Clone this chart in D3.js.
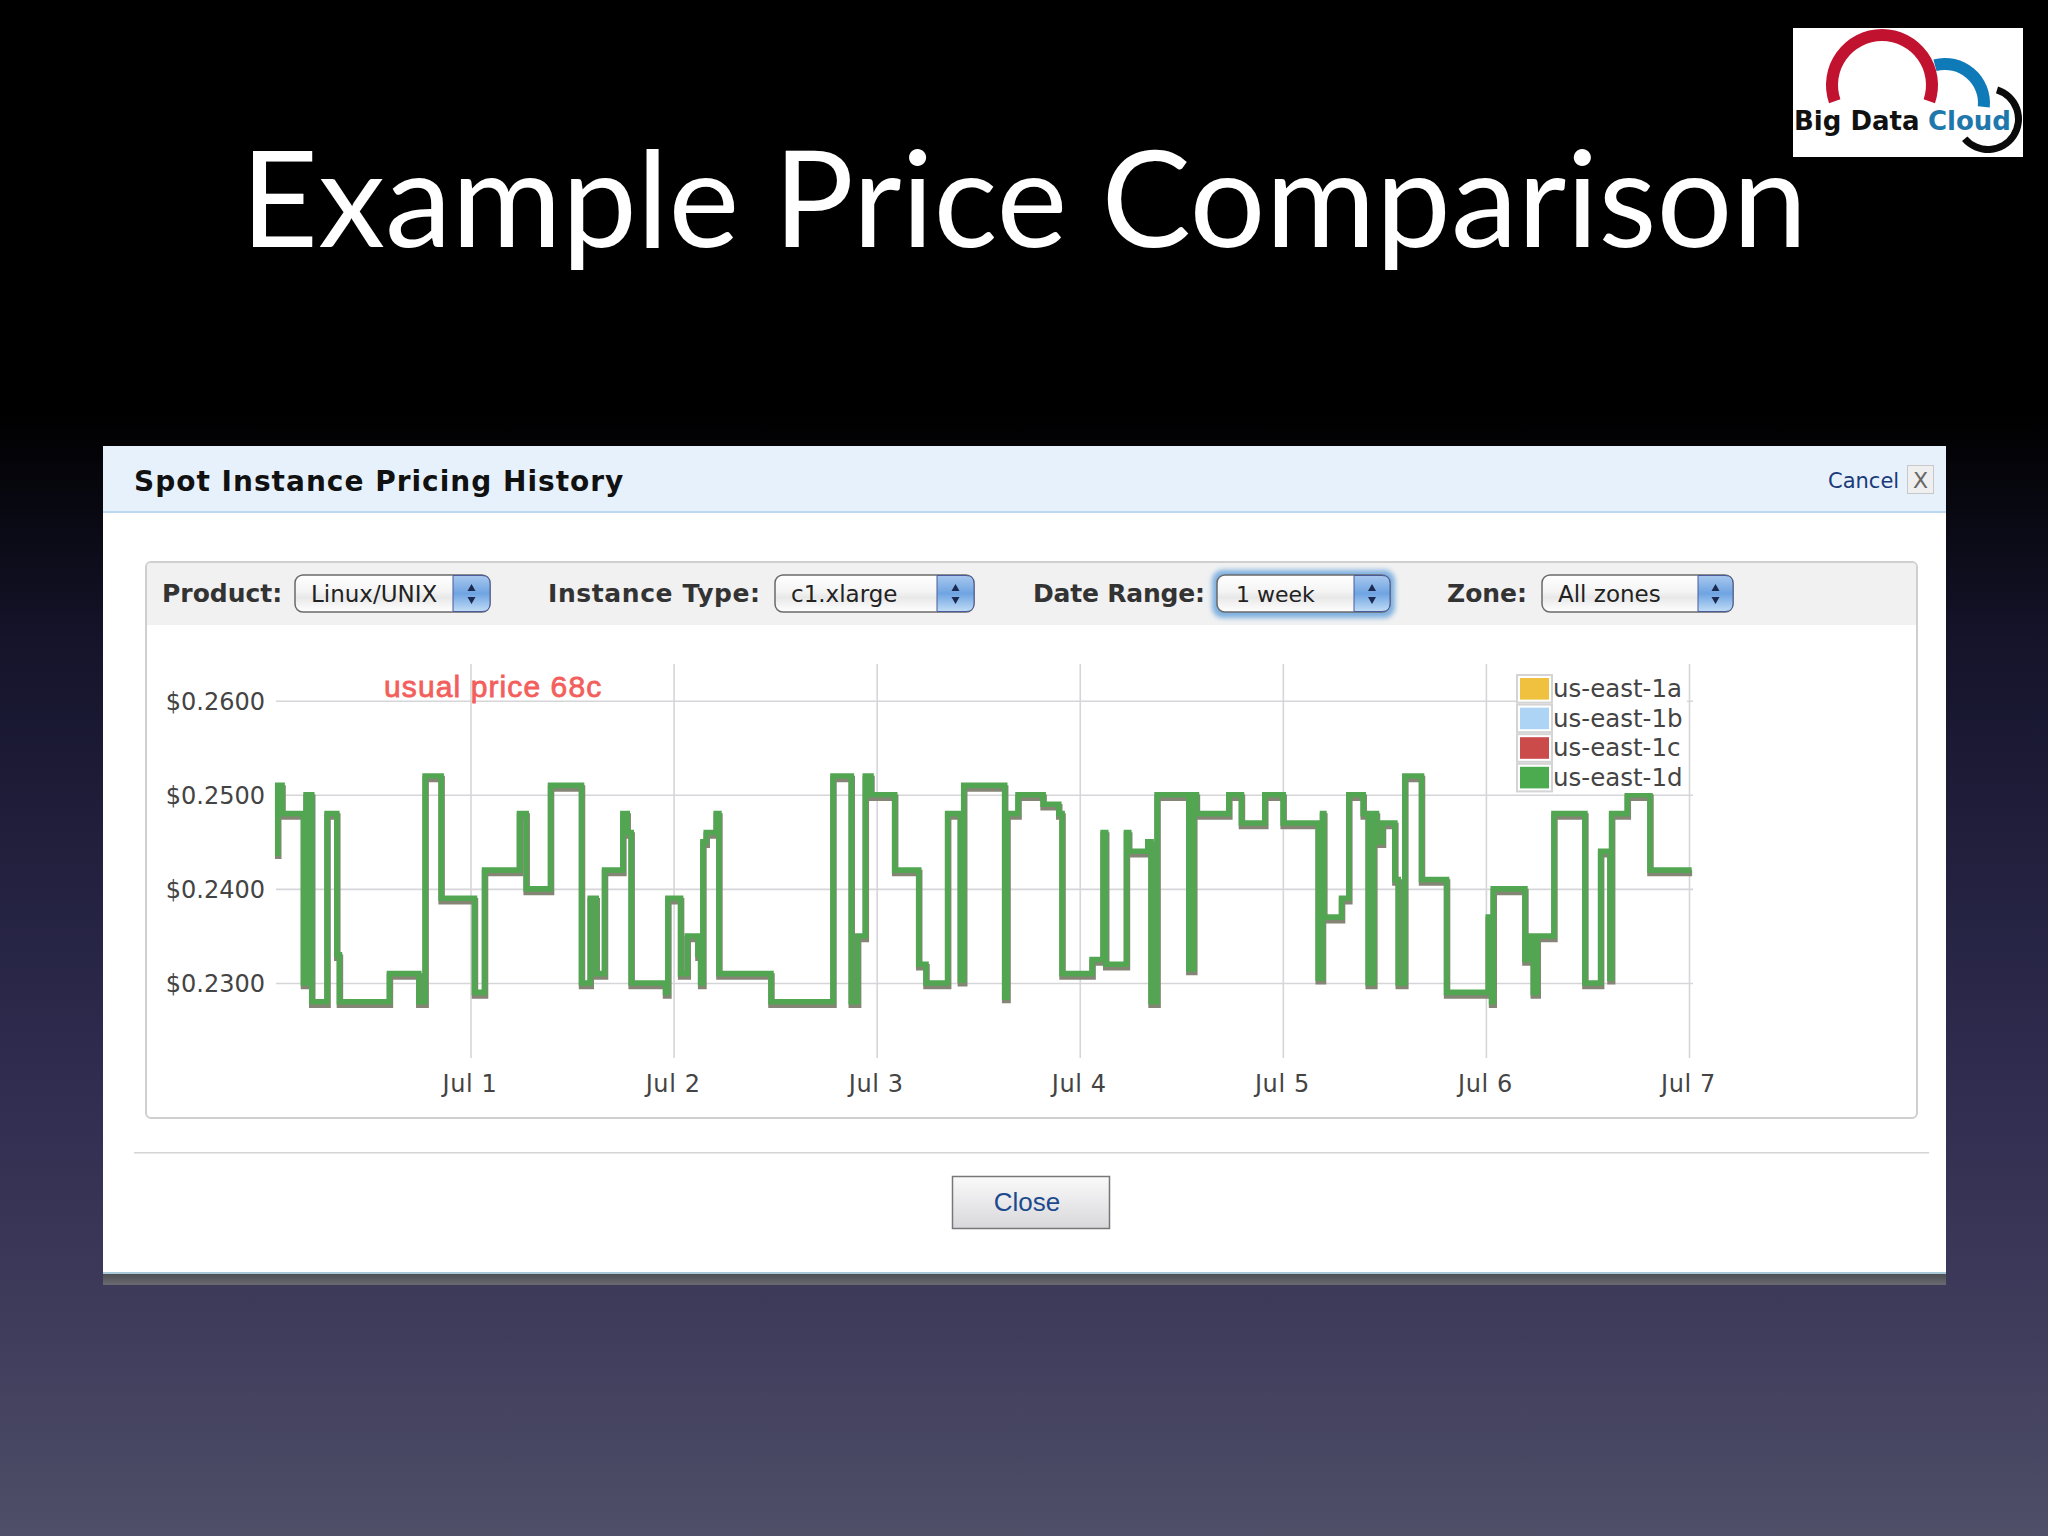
<!DOCTYPE html>
<html>
<head>
  <meta charset="utf-8">
  <script src="https://d3js.org/d3.v7.min.js"></script>
  <style>
    body { margin: 0; background: #000; overflow: hidden; }
    svg { display: block; }
    text { font-family: "DejaVu Sans", sans-serif; }
  </style>
  <title>Example Price Comparison</title>
</head>
<body>
<script>
  // hours since Jul 1 00:00 at which the price changes
  const hours = [-22.78, -22.78, -22.27, -19.74, -19.43, -19.23, -19.03, -18.76, -16.95, -15.80, -15.49, -9.58,
    -6.11, -5.36, -3.47, 0.47, 1.66, 5.79, 6.58, 9.46, 13.12, 14.15, 14.86, 15.84, 18.01, 18.52, 18.99, 23.05,
    23.33, 24.83, 25.62, 26.88, 27.2, 27.47, 27.86, 29.04, 29.36, 35.51, 42.84, 45.0, 45.75, 46.66, 47.33, 50.13,
    52.97, 53.83, 56.39, 57.89, 58.29, 63.13, 63.41, 64.71, 67.67, 69.52, 69.91, 73.46, 74.76, 75.07, 77.52, 77.79,
    80.04, 80.43, 81.14, 84.89, 85.48, 85.79, 89.62, 91.11, 93.87, 96.04, 100.18, 100.69, 100.85, 102.94, 103.80,
    105.50, 106.09, 106.76, 107.07, 107.78, 109.24, 109.64, 110.42, 112.39, 115.35, 120.28, 120.67, 120.87, 124.61,
    125.20, 125.60, 126.07, 128.04, 131.70, 133.56, 134.66, 134.86, 136.71, 139.39, 144.31];
  // price from that hour on
  const prices = [0.2435, 0.251, 0.248, 0.23, 0.25, 0.23, 0.25, 0.228, 0.248, 0.233, 0.228, 0.231,
    0.228, 0.252, 0.239, 0.229, 0.242, 0.248, 0.24, 0.251, 0.23, 0.239, 0.231, 0.242, 0.248, 0.246, 0.23, 0.229,
    0.239, 0.231, 0.235, 0.233, 0.23, 0.245, 0.246, 0.248, 0.231, 0.228, 0.252, 0.228, 0.235, 0.252, 0.25, 0.242,
    0.232, 0.23, 0.248, 0.2303, 0.251, 0.2285, 0.248, 0.25, 0.249, 0.248, 0.231, 0.2325, 0.246, 0.232, 0.246, 0.244,
    0.245, 0.228, 0.25, 0.2315, 0.25, 0.248, 0.25, 0.247, 0.25, 0.247, 0.2305, 0.248, 0.237, 0.239, 0.25,
    0.248, 0.23, 0.248, 0.245, 0.247, 0.241, 0.23, 0.252, 0.241, 0.229, 0.237, 0.228, 0.24, 0.2325,
    0.235, 0.229, 0.235, 0.248, 0.23, 0.244, 0.2305, 0.248, 0.25, 0.242, 0.242];

  const yTicks = [0.23, 0.24, 0.25, 0.26];
  const dayLabels = ["Jul 1", "Jul 2", "Jul 3", "Jul 4", "Jul 5", "Jul 6", "Jul 7"];
  const zones = ["us-east-1a", "us-east-1b", "us-east-1c", "us-east-1d"];
  const zoneColors = ["#efc13f", "#aed4f5", "#cb4a4a", "#4dab4f"];
  const filters = [
    { label: "Product:", lx: 162, ls: 0, value: "Linux/UNIX", x0: 295, x1: 490, btn: 453 },
    { label: "Instance Type:", lx: 548, ls: 0.6, value: "c1.xlarge", x0: 775, x1: 974, btn: 937 },
    { label: "Date Range:", lx: 1033, ls: -0.2, value: "1 week", x0: 1217, x1: 1390, btn: 1354, focus: true },
    { label: "Zone:", lx: 1447, ls: 0, value: "All zones", x0: 1542, x1: 1733, btn: 1698 }
  ];

  const svg = d3.select("body").append("svg").attr("width", 2048).attr("height", 1536);
  const defs = svg.append("defs");

  function gradient(id, stops, x2, y2) {
    const g = defs.append("linearGradient").attr("id", id)
      .attr("x1", 0).attr("y1", 0).attr("x2", x2 || 0).attr("y2", y2 === undefined ? 1 : y2);
    stops.forEach(s => g.append("stop").attr("offset", s[0]).attr("stop-color", s[1]));
  }
  gradient("bg", [[0, "#000"], [0.27, "#000"], [0.42, "#15142b"], [0.7, "#2f2c50"], [0.85, "#3d3a5a"], [1, "#4f4f68"]]);
  gradient("sel", [[0, "#fff"], [0.45, "#f4f4f4"], [0.6, "#e8e8e8"], [1, "#fff"]]);
  gradient("selBtn", [[0, "#a8c8ee"], [0.5, "#6fa4e2"], [1, "#c0dcf6"]]);
  gradient("closeBtn", [[0, "#fafafa"], [1, "#d8d8dc"]]);
  gradient("dropShadow", [[0, "#4a4c50"], [1, "#6a6a70"]]);
  defs.append("filter").attr("id", "glow").attr("x", "-10%").attr("y", "-40%").attr("width", "120%").attr("height", "180%")
    .append("feGaussianBlur").attr("stdDeviation", 2.5);

  svg.append("rect").attr("width", 2048).attr("height", 1536).attr("fill", "url(#bg)");

  // slide title
  svg.append("text").attr("x", 1024).attr("y", 247).attr("text-anchor", "middle")
    .attr("fill", "#fff").attr("font-size", 134).style("font-family", "Lato")
    .text("Example Price Comparison");

  // logo
  const logo = svg.append("g");
  logo.append("rect").attr("x", 1793).attr("y", 28).attr("width", 230).attr("height", 129).attr("fill", "#fff");
  const arc = d3.arc();
  logo.append("path").attr("transform", "translate(1945,103)").attr("fill", "#0f7ab8")
    .attr("d", arc({ innerRadius: 33, outerRadius: 45, startAngle: -0.26, endAngle: Math.PI / 2 + 0.1 }));
  logo.append("path").attr("transform", "translate(1882,85)").attr("fill", "#c1122f")
    .attr("d", arc({ innerRadius: 44, outerRadius: 56, startAngle: -Math.PI / 2 - 0.33, endAngle: Math.PI / 2 + 0.33 }));
  logo.append("path").attr("transform", "translate(1988,119)").attr("fill", "#0a0a0a")
    .attr("d", arc({ innerRadius: 27, outerRadius: 34, startAngle: 0.3, endAngle: Math.PI + 0.87 }));
  logo.append("text").attr("x", 1794).attr("y", 130).attr("font-size", 26).attr("font-weight", "bold")
    .attr("fill", "#111").text("Big Data");
  logo.append("text").attr("x", 1928).attr("y", 130).attr("font-size", 26).attr("font-weight", "bold")
    .attr("fill", "#1f78ac").text("Cloud");

  // dialog
  svg.append("rect").attr("x", 103).attr("y", 1273).attr("width", 1843).attr("height", 12).attr("fill", "url(#dropShadow)");
  svg.append("rect").attr("x", 103).attr("y", 446).attr("width", 1843).attr("height", 828).attr("fill", "#fff");
  svg.append("rect").attr("x", 103).attr("y", 1272).attr("width", 1843).attr("height", 2).attr("fill", "#a8c8d8");
  svg.append("rect").attr("x", 103).attr("y", 446).attr("width", 1843).attr("height", 66).attr("fill", "#e7f1fb");
  svg.append("rect").attr("x", 103).attr("y", 511).attr("width", 1843).attr("height", 2).attr("fill", "#bcd8f0");
  svg.append("text").attr("x", 134).attr("y", 491).attr("font-size", 28).attr("font-weight", "bold")
    .attr("letter-spacing", 1).attr("fill", "#111").text("Spot Instance Pricing History");
  svg.append("text").attr("x", 1828).attr("y", 488).attr("font-size", 21).attr("fill", "#1a3a7a").text("Cancel");
  svg.append("rect").attr("x", 1907.5).attr("y", 465.5).attr("width", 26).attr("height", 28)
    .attr("fill", "#efefef").attr("stroke", "#c8c8c8");
  svg.append("text").attr("x", 1920.5).attr("y", 488).attr("text-anchor", "middle").attr("font-size", 22)
    .attr("fill", "#666").text("X");

  // filter panel
  svg.append("rect").attr("x", 146).attr("y", 562).attr("width", 1771).attr("height", 556).attr("rx", 5)
    .attr("fill", "#fff").attr("stroke", "#cfcfcf").attr("stroke-width", 2);
  svg.append("path").attr("d", "M147 625V567q0-4 4-4H1912q4 0 4 4V625Z").attr("fill", "#f1f1f1");

  filters.forEach(function (f) {
    const g = svg.append("g");
    g.append("text").attr("x", f.lx).attr("y", 602).attr("font-size", 25).attr("font-weight", "bold")
      .attr("letter-spacing", f.ls).attr("fill", "#333").text(f.label);
    if (f.focus) {
      g.append("rect").attr("x", f.x0 - 5).attr("y", 570).attr("width", f.x1 - f.x0 + 10).attr("height", 48).attr("rx", 11)
        .attr("fill", "#7fb0e0").attr("filter", "url(#glow)");
    }
    g.append("rect").attr("x", f.x0).attr("y", 575).attr("width", f.x1 - f.x0).attr("height", 37).attr("rx", 8)
      .attr("fill", "url(#sel)").attr("stroke", "#6a6a6a").attr("stroke-width", 1.5);
    g.append("path").attr("d", `M${f.btn} 575.5H${f.x1 - 8}q8 0 8 8v20q0 8-8 8H${f.btn}Z`)
      .attr("fill", "url(#selBtn)").attr("stroke", "#4a5a9a").attr("stroke-width", 1);
    const cx = (f.btn + f.x1) / 2;
    g.append("path").attr("d", `M${cx - 4} 591l4-7 4 7ZM${cx - 4} 597l4 7 4-7Z`).attr("fill", "#1c2a50");
    g.append("text").attr("x", f.x0 + (f.focus ? 19 : 16)).attr("y", 602).attr("font-size", f.focus ? 22 : 23)
      .attr("fill", "#222").text(f.value);
  });

  // chart
  const day0 = Date.UTC(2011, 6, 1);
  const toDate = h => new Date(day0 + h * 3600000);
  const x = d3.scaleUtc().domain([toDate(0), toDate(144)]).range([470.5, 1689]);
  const y = d3.scaleLinear().domain([0.23, 0.26]).range([983, 700.7]);
  const plotLeft = 276, plotRight = 1693, plotTop = 664, plotBottom = 1058;
  const dayTicks = dayLabels.map((d, i) => toDate(i * 24));

  const xAxis = d3.axisBottom(x).tickValues(dayTicks).tickSize(plotBottom - plotTop).tickPadding(17)
    .tickFormat((d, i) => dayLabels[i]);
  const yAxis = d3.axisLeft(y).tickValues(yTicks).tickSize(plotRight - plotLeft).tickPadding(11)
    .tickFormat(d => "$" + d.toFixed(4));

  const gx = svg.append("g").attr("transform", `translate(0,${plotTop})`).call(xAxis);
  const gy = svg.append("g").attr("transform", `translate(${plotRight},0)`).call(yAxis);
  [gx, gy].forEach(function (g) {
    g.select(".domain").remove();
    g.selectAll("line").attr("stroke", "#d6d6da").attr("stroke-width", 1.6);
    g.selectAll("text").attr("fill", "#444").attr("font-size", 24).style("font-family", "'DejaVu Sans'");
  });
  gx.selectAll("text").attr("letter-spacing", 0.6).attr("dx", -1);
  gy.selectAll("text").attr("dy", "0.36em");

  const points = hours.map((h, i) => [toDate(h), prices[i]]);
  const line = d3.line().x(d => x(d[0])).y(d => y(d[1])).curve(d3.curveStepAfter);

  svg.append("path").attr("d", line(points)).attr("transform", "translate(0.5,3)")
    .attr("fill", "none").attr("stroke", "#858576").attr("stroke-width", 6.5);
  svg.append("path").attr("d", line(points))
    .attr("fill", "none").attr("stroke", "#52a652").attr("stroke-width", 5.6);

  svg.append("text").attr("x", 384).attr("y", 697).attr("font-size", 30).style("font-family", "'Liberation Sans'")
    .attr("letter-spacing", 1.1).attr("fill", "#f25f5c").attr("stroke", "#f25f5c").attr("stroke-width", 0.8)
    .text("usual price 68c");

  // legend
  const legend = svg.append("g");
  legend.append("rect").attr("x", 1516).attr("y", 675).attr("width", 171).attr("height", 118).attr("fill", "#fff");
  const rows = legend.selectAll("g").data(zones).enter().append("g")
    .attr("transform", (d, i) => `translate(1516,${674 + i * 29.6})`);
  rows.append("rect").attr("x", 1).attr("y", 1).attr("width", 35).attr("height", 27.6)
    .attr("fill", "#fff").attr("stroke", "#d4d4d4").attr("stroke-width", 2);
  rows.append("rect").attr("x", 4).attr("y", 4).attr("width", 29).attr("height", 21.6)
    .attr("fill", (d, i) => zoneColors[i]);
  rows.append("text").attr("x", 37).attr("y", 23).attr("font-size", 24.5).attr("fill", "#444").text(d => d);

  // footer
  svg.append("rect").attr("x", 134).attr("y", 1152).attr("width", 1795).attr("height", 1.5).attr("fill", "#d4d4d4");
  svg.append("rect").attr("x", 952.5).attr("y", 1176.5).attr("width", 157).attr("height", 52)
    .attr("fill", "url(#closeBtn)").attr("stroke", "#777").attr("stroke-width", 1.5);
  svg.append("text").attr("x", 1027).attr("y", 1211).attr("text-anchor", "middle").attr("font-size", 26)
    .style("font-family", "'Liberation Sans'").attr("fill", "#1c4a8c").text("Close");
</script>
</body>
</html>
